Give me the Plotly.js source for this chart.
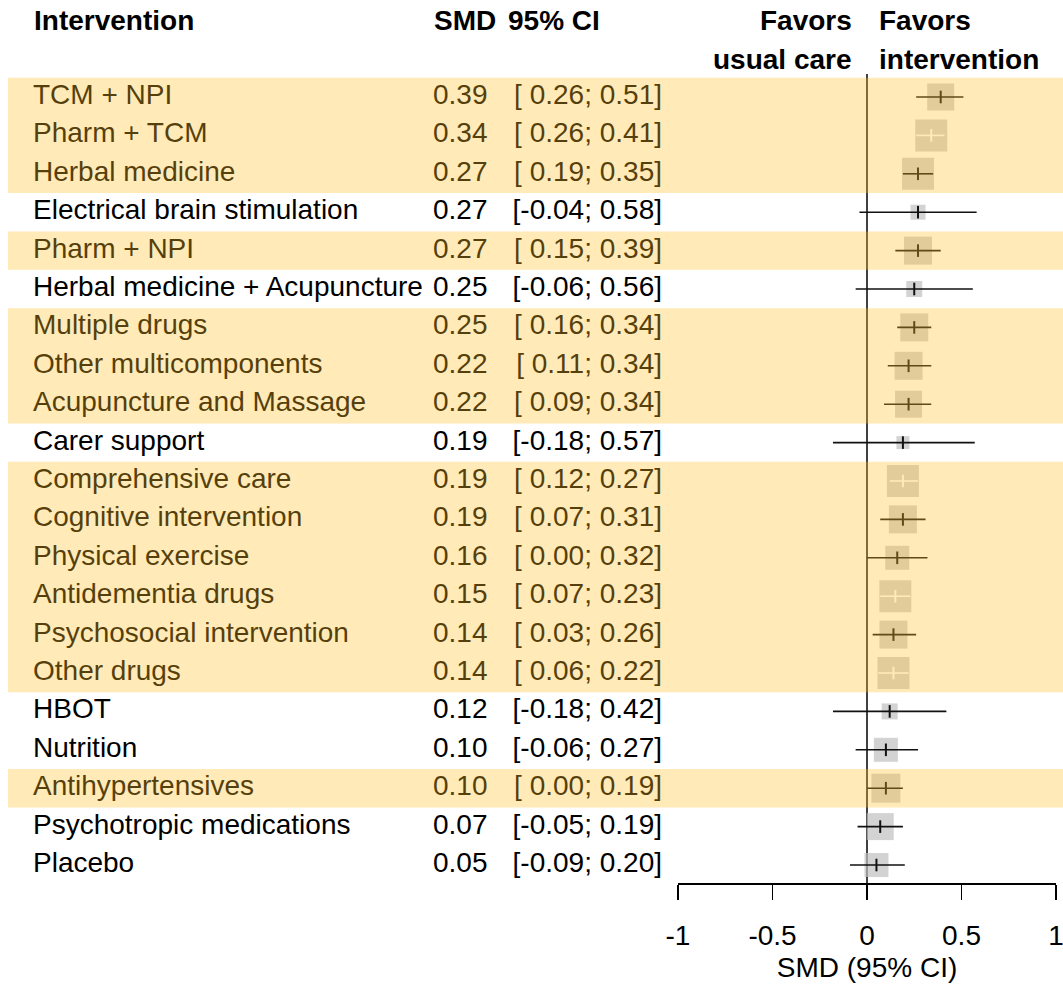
<!DOCTYPE html>
<html>
<head>
<meta charset="utf-8">
<script src="https://cdn.plot.ly/plotly-3.0.1.min.js"></script>
<style>
html,body{margin:0;padding:0;background:#fff;}
#chart{width:1063px;height:986px;}
</style>
</head>
<body>
<div id="chart"></div>
<script>
// ---- data ----
const interventions = [
  "TCM + NPI", "Pharm + TCM", "Herbal medicine", "Electrical brain stimulation",
  "Pharm + NPI", "Herbal medicine + Acupuncture", "Multiple drugs", "Other multicomponents",
  "Acupuncture and Massage", "Carer support", "Comprehensive care", "Cognitive intervention",
  "Physical exercise", "Antidementia drugs", "Psychosocial intervention", "Other drugs",
  "HBOT", "Nutrition", "Antihypertensives", "Psychotropic medications", "Placebo"
];
const smd   = [0.39, 0.34, 0.27, 0.27, 0.27, 0.25, 0.25, 0.22, 0.22, 0.19, 0.19, 0.19, 0.16, 0.15, 0.14, 0.14, 0.12, 0.10, 0.10, 0.07, 0.05];
const lower = [0.26, 0.26, 0.19, -0.04, 0.15, -0.06, 0.16, 0.11, 0.09, -0.18, 0.12, 0.07, 0.00, 0.07, 0.03, 0.06, -0.18, -0.06, 0.00, -0.05, -0.09];
const upper = [0.51, 0.41, 0.35, 0.58, 0.39, 0.56, 0.34, 0.34, 0.34, 0.57, 0.27, 0.31, 0.32, 0.23, 0.26, 0.22, 0.42, 0.27, 0.19, 0.19, 0.20];
// relative study weight (drawn as square size)
const weight = [27, 32, 32, 15, 28, 16, 28, 28, 27, 13, 32, 28, 24, 32, 28, 32, 16, 24, 29, 27, 24];
// rows highlighted as significant
const significant = [true, true, true, false, true, false, true, true, true, false, true, true, true, true, true, true, false, false, true, false, false];
// CI drawn inside the square (white line)
const ciInside = [false, true, false, false, false, false, false, false, false, false, true, false, false, true, false, true, false, false, false, false, false];
const tickVals = [-1, -0.5, 0, 0.5, 1];
const tickText = ["-1", "-0.5", "0", "0.5", "1"];

// ---- build ----
const W = 1063, H = 986;
const FONT = '"Liberation Sans", Arial, sans-serif';
const FS = 28;
const rows = interventions.map((_, i) => i);

function fmt(v) { return v.toFixed(2); }
function fmtCI(lo, hi) {
  const l = lo < 0 ? "-" + Math.abs(lo).toFixed(2) : "\u00A0" + lo.toFixed(2);
  return "[" + l + "; " + hi.toFixed(2) + "]";
}

const traces = [];

// squares
traces.push({
  type: "scatter", mode: "markers", x: smd, y: rows, xaxis: "x", yaxis: "y",
  marker: { symbol: "square", size: weight, color: "#C0C0C0", line: { width: 0 } },
  hoverinfo: "skip", showlegend: false, cliponaxis: false
});

// CI lines (black and white)
function ciTrace(flag, color) {
  const xs = [], ys = [], ex = [], ey = [];
  rows.forEach(i => {
    if (ciInside[i] === flag) {
      xs.push(lower[i], upper[i], null); ys.push(i, i, null);
      ex.push(smd[i]); ey.push(i);
    }
  });
  traces.push({
    type: "scatter", mode: "lines", x: xs, y: ys, xaxis: "x", yaxis: "y",
    line: { color: color, width: 1.6 }, hoverinfo: "skip", showlegend: false, cliponaxis: false
  });
  traces.push({
    type: "scatter", mode: "markers", x: ex, y: ey, xaxis: "x", yaxis: "y",
    marker: { symbol: "line-ns", size: 9, color: color, line: { color: color, width: 2 } },
    hoverinfo: "skip", showlegend: false, cliponaxis: false
  });
}
ciTrace(false, "#111111");
ciTrace(true, "#FFFFFF");

// text columns (in pixel-like coordinates of a hidden x axis)
const textFont = { family: FONT, size: FS, color: "#000000" };
traces.push({
  type: "scatter", mode: "text", x: rows.map(() => 33), y: rows, xaxis: "x2", yaxis: "y",
  text: interventions, textposition: "middle right", textfont: textFont,
  hoverinfo: "skip", showlegend: false, cliponaxis: false
});
traces.push({
  type: "scatter", mode: "text", x: rows.map(() => 433), y: rows, xaxis: "x2", yaxis: "y",
  text: smd.map(fmt), textposition: "middle right", textfont: textFont,
  hoverinfo: "skip", showlegend: false, cliponaxis: false
});
traces.push({
  type: "scatter", mode: "text", x: rows.map(() => 662), y: rows, xaxis: "x2", yaxis: "y",
  text: rows.map(i => fmtCI(lower[i], upper[i])), textposition: "middle left", textfont: textFont,
  hoverinfo: "skip", showlegend: false, cliponaxis: false
});

// shapes: zero line + highlight bands
const shapes = [{
  type: "line", xref: "x", yref: "y", x0: 0, x1: 0, y0: -0.6, y1: 20.47,
  line: { color: "#000000", width: 1.5 }, layer: "below"
}];
let start = null;
for (let i = 0; i <= rows.length; i++) {
  const s = i < rows.length && significant[i];
  if (s && start === null) start = i;
  if (!s && start !== null) {
    shapes.push({
      type: "rect", xref: "paper", yref: "y", x0: 8 / W, x1: 1, y0: start - 0.5, y1: i - 0.5,
      fillcolor: "rgb(255,192,40)", opacity: 0.33, line: { width: 0 }, layer: "above"
    });
    start = null;
  }
}

const yRow = py => (py - 97) / 38.4;
const hdrFont = { family: FONT, size: FS, color: "#000000" };
const annotations = [
  { text: "<b>Intervention</b>", x: 33, y: yRow(20), xanchor: "left" },
  { text: "<b>SMD</b>", x: 433, y: yRow(20), xanchor: "left" },
  { text: "<b>95% CI</b>", x: 507, y: yRow(20), xanchor: "left" },
  { text: "<b>Favors</b>", x: 853, y: yRow(20), xanchor: "right" },
  { text: "<b>usual care</b>", x: 853, y: yRow(59), xanchor: "right" },
  { text: "<b>Favors</b>", x: 878, y: yRow(20), xanchor: "left" },
  { text: "<b>intervention</b>", x: 878, y: yRow(59), xanchor: "left" }
].map(a => Object.assign({ xref: "x2", yref: "y", yanchor: "middle", showarrow: false, font: hdrFont, borderpad: 0 }, a));

const layout = {
  width: W, height: H,
  margin: { l: 0, r: 0, t: 0, b: 0 },
  paper_bgcolor: "#ffffff", plot_bgcolor: "rgba(0,0,0,0)",
  showlegend: false,
  font: { family: FONT, size: FS, color: "#000000" },
  xaxis: {
    domain: [678 / W, 1056 / W], range: [-1, 1], autorange: false,
    anchor: "free", position: 1 - 883 / H,
    showline: true, linecolor: "#000000", linewidth: 1.5,
    ticks: "outside", ticklen: 15, tickwidth: 1.5, tickcolor: "#000000",
    tickvals: tickVals, ticktext: tickText,
    tickfont: { family: FONT, size: FS, color: "#000000" },
    ticklabelstandoff: 12, ticklabeloverflow: "allow",
    showgrid: false, zeroline: false,
    title: { text: "SMD (95% CI)", font: { family: FONT, size: FS, color: "#000000" }, standoff: 7 }
  },
  xaxis2: {
    domain: [0, 1], range: [0, W], autorange: false, anchor: "y",
    visible: false, showgrid: false, zeroline: false
  },
  yaxis: {
    domain: [0, 1], range: [yRow(H), yRow(0)], autorange: false, anchor: "x2",
    visible: false, showgrid: false, zeroline: false
  },
  shapes: shapes,
  annotations: annotations
};

Plotly.newPlot("chart", traces, layout, { staticPlot: true, displayModeBar: false });
</script>
</body>
</html>
